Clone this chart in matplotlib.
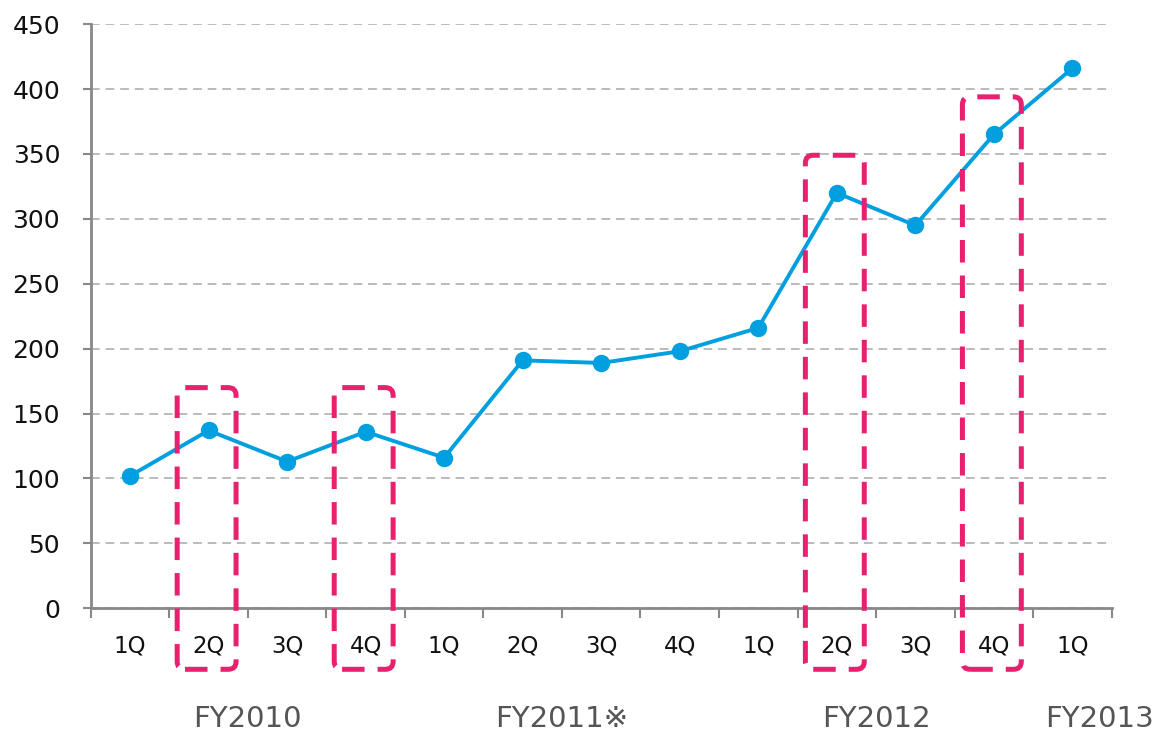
import numpy as np
import matplotlib.pyplot as plt
from matplotlib.patches import FancyBboxPatch

quarters = ["1Q", "2Q", "3Q", "4Q", "1Q", "2Q", "3Q", "4Q", "1Q", "2Q", "3Q", "4Q", "1Q"]
values = [102, 137, 113, 136, 116, 191, 189, 198, 216, 320, 295, 365, 416]
fy_names = ["FY2010", "FY2011※", "FY2012", "FY2013"]
fy_sizes = [4, 4, 4, 1]
# highlighted quarters (index, top value of box)
hl_index = [1, 3, 9, 11]
hl_top = [170, 170, 349, 394]

plt.rcParams['font.family'] = ['DejaVu Sans']

fig = plt.figure(figsize=(11.64, 7.32), dpi=100)
ax = fig.add_axes([0.078, 0.169, 0.877, 0.798])

x = np.arange(len(values))
ax.plot(x, values, color='#009FDF', lw=2.8, marker='o', ms=11.5, zorder=3)

ax.set_xlim(-0.5, len(values) - 0.5)
ax.set_ylim(0, 450)
ax.set_yticks(range(0, 451, 50))
ax.tick_params(axis='y', labelsize=18, length=6, width=1.5, color='#888888', pad=16,
               labelcolor='#111111')
ax.set_xticks(np.arange(-0.5, len(values), 1))
ax.set_xticklabels([])
ax.tick_params(axis='x', length=7, width=1.5, color='#888888', direction='out')

ax.grid(axis='y', ls=(0, (4.5, 3)), color='#BBBBBB', lw=1.4)
for s in ['top', 'right']:
    ax.spines[s].set_visible(False)
for s in ['left', 'bottom']:
    ax.spines[s].set_color('#888888')
    ax.spines[s].set_linewidth(2)

# quarter labels
for i, q in enumerate(quarters):
    ax.text(i, -29, q, ha='center', va='center', fontsize=16.5,
            color='#111111', clip_on=False)

# fiscal year labels
start = 0
for name, n in zip(fy_names, fy_sizes):
    cx = start + (n - 1) / 2
    if n == 1:
        cx += 0.35
    ax.text(cx, -85, name, ha='center', va='center', fontsize=21,
            color='#555555', clip_on=False)
    start += n

# dashed highlight boxes
for i, top in zip(hl_index, hl_top):
    box = FancyBboxPatch((i - 0.4, -47), 0.75, top + 47,
                         boxstyle='round,pad=0,rounding_size=0.1',
                         fill=False, ec='#E8206E', lw=3.6, ls=(0, (4.5, 2.6)),
                         clip_on=False, zorder=4, mutation_aspect=60)
    ax.add_patch(box)

plt.savefig("out.png", dpi=100)
